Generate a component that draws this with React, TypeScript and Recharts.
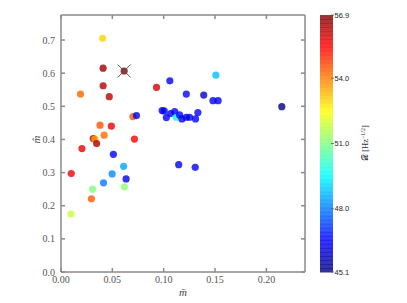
import { ScatterChart, Scatter, XAxis, YAxis } from "recharts";

// m-bar (x), m-hat (y) and D value of each run
const mBar = [
  0.0405, 0.041, 0.041, 0.019, 0.047, 0.093, 0.106, 0.122, 0.139, 0.1508, 0.148, 0.153,
  0.215, 0.07, 0.0735, 0.038, 0.049, 0.042, 0.0715, 0.0314, 0.033, 0.0347, 0.0204, 0.01,
  0.051, 0.061, 0.1146, 0.1307, 0.0498, 0.0634, 0.0414, 0.0307, 0.0618, 0.0296, 0.0097,
  0.0985, 0.1005, 0.1026, 0.1068, 0.1107, 0.1123, 0.1155, 0.1178, 0.122, 0.1252, 0.131, 0.1333,
];
const mHat = [
  0.705, 0.615, 0.562, 0.537, 0.529, 0.557, 0.577, 0.537, 0.534, 0.594, 0.517, 0.517,
  0.499, 0.469, 0.472, 0.443, 0.44, 0.413, 0.401, 0.4025, 0.401, 0.3875, 0.3725, 0.297,
  0.355, 0.319, 0.324, 0.316, 0.296, 0.281, 0.269, 0.25, 0.257, 0.221, 0.175,
  0.487, 0.486, 0.466, 0.478, 0.484, 0.467, 0.474, 0.462, 0.467, 0.467, 0.462, 0.481,
];
const dValue = [
  53.0, 56.5, 56.3, 54.3, 56.2, 55.9, 46.5, 46.5, 46.0, 48.8, 46.5, 46.5,
  45.1, 54.4, 46.3, 54.5, 55.6, 54.2, 55.5, 56.2, 53.6, 56.4, 55.6, 55.6,
  46.4, 48.5, 46.4, 46.5, 48.2, 46.3, 48.0, 51.0, 51.2, 54.4, 51.8,
  46.4, 46.5, 46.5, 46.6, 46.4, 49.4, 46.5, 46.3, 46.5, 46.4, 46.5, 46.6,
];

// highlighted run (drawn with a cross)
const bestX = [0.0615];
const bestY = [0.6065];
const bestD = [56.9];

const xTicks = [0, 0.05, 0.1, 0.15, 0.2];
const yTicks = [0, 0.1, 0.2, 0.3, 0.4, 0.5, 0.6, 0.7];
const cbarTicks = [56.9, 54.0, 51.0, 48.0, 45.1];
const dMin = 45.1;
const dMax = 56.9;
const xDomain = [0, 0.2376];
const yDomain = [0, 0.7755];

const points = mBar.map((x, i) => ({ x, y: mHat[i], d: dValue[i] }));
const best = bestX.map((x, i) => ({ x, y: bestY[i], d: bestD[i] }));

// matplotlib "jet"
function jet(t: number) {
  const c = (v: number) => Math.max(0, Math.min(1, v));
  const r = c(Math.min(4 * t - 1.5, -4 * t + 4.5));
  const g = c(Math.min(4 * t - 0.5, -4 * t + 3.5));
  const b = c(Math.min(4 * t + 0.5, -4 * t + 2.5));
  return `rgb(${Math.round(r * 255)},${Math.round(g * 255)},${Math.round(b * 255)})`;
}
const colorOf = (d: number) => jet((d - dMin) / (dMax - dMin));

const AXIS = "#8a8a8a";
const SERIF = "'Liberation Serif', 'DejaVu Serif', serif";
const SANS = "'Liberation Sans', Arial, sans-serif";

const XTick = (props: any) => {
  const { x, y, payload } = props;
  return (
    <text x={x} y={y} dy="0.75em" textAnchor="middle" fontSize={10} fontFamily={SERIF} fill="#555">
      {Number(payload.value).toFixed(2)}
    </text>
  );
};

const YTick = (props: any) => {
  const { x, y, payload } = props;
  return (
    <text x={x} y={y} dy="0.35em" textAnchor="end" fontSize={10} fontFamily={SERIF} fill="#555">
      {Number(payload.value).toFixed(1)}
    </text>
  );
};

const Dot = (props: any) => {
  const { cx, cy, payload } = props;
  return <circle cx={cx} cy={cy} r={3.6} fill={colorOf(payload.d)} fillOpacity={0.8} />;
};

const CrossDot = (props: any) => {
  const { cx, cy, payload } = props;
  const s = 6.5;
  return (
    <g>
      <circle cx={cx} cy={cy} r={3.6} fill={colorOf(payload.d)} fillOpacity={0.8} />
      <line x1={cx - s} y1={cy - s} x2={cx + s} y2={cy + s} stroke="#555" strokeWidth={1} />
      <line x1={cx - s} y1={cy + s} x2={cx + s} y2={cy - s} stroke="#555" strokeWidth={1} />
    </g>
  );
};

function Colorbar() {
  const left = 320;
  const top = 15;
  const w = 13;
  const h = 257;
  const steps = 64;
  const yOf = (v: number) => top + ((dMax - v) / (dMax - dMin)) * h;
  return (
    <svg width={407} height={303} style={{ position: "absolute", left: 0, top: 0, pointerEvents: "none" }}>
      {Array.from({ length: steps }, (_, i) => (
        <rect
          key={i}
          x={left}
          y={top + (i * h) / steps}
          width={w}
          height={h / steps + 0.5}
          fill={jet(1 - (i + 0.5) / steps)}
          fillOpacity={0.8}
        />
      ))}
      {cbarTicks.map((v) => (
        <g key={v}>
          <line x1={left + w - 2} x2={left + w + 1} y1={yOf(v)} y2={yOf(v)} stroke="#555" strokeWidth={0.8} />
          <text x={left + w + 1.5} y={yOf(v) + 2.6} fontSize={7.5} fontFamily={SANS} fill="#222">
            {v.toFixed(1)}
          </text>
        </g>
      ))}
      <text
        x={368}
        y={143}
        fontSize={8.5}
        fontFamily={SERIF}
        fill="#333"
        textAnchor="middle"
        transform="rotate(-90 368 143)"
      >
        𝒟 [Hz<tspan dy={-3} fontSize={6}>−1/2</tspan><tspan dy={3}>]</tspan>
      </text>
    </svg>
  );
}

export default function App() {
  return (
    <div
      style={{
        position: "absolute",
        left: 0,
        top: 0,
        width: 407,
        height: 303,
        background: "#fff",
        fontFamily: SERIF,
      }}
    >
      <ScatterChart
        width={407}
        height={303}
        margin={{ top: 0, right: 100, bottom: 0, left: 0 }}
        style={{ fontFamily: SERIF }}
      >
        <XAxis
          xAxisId="bottom"
          dataKey="x"
          type="number"
          domain={xDomain}
          ticks={xTicks}
          height={31}
          stroke={AXIS}
          strokeWidth={1.5}
          tickSize={-4}
          tickMargin={7}
          tick={XTick}
          label={{ value: "m\u0304", position: "insideBottom", offset: 7, fill: "#444", fontSize: 11, fontFamily: SERIF, fontStyle: "italic" }}
        />
        <XAxis
          xAxisId="top"
          orientation="top"
          dataKey="x"
          type="number"
          domain={xDomain}
          ticks={xTicks}
          height={15}
          stroke={AXIS}
          strokeWidth={1.5}
          tickSize={-4}
          tick={() => <g />}
        />
        <YAxis
          yAxisId="left"
          dataKey="y"
          type="number"
          domain={yDomain}
          ticks={yTicks}
          width={61}
          stroke={AXIS}
          strokeWidth={1.5}
          tickSize={-4}
          tickMargin={10}
          tick={YTick}
          label={{ value: "m\u0302", angle: -90, position: "insideLeft", offset: 36, fill: "#444", fontSize: 11, fontFamily: SERIF, fontStyle: "italic" }}
        />
        <YAxis
          yAxisId="right"
          orientation="right"
          dataKey="y"
          type="number"
          domain={yDomain}
          ticks={yTicks}
          width={2}
          stroke={AXIS}
          strokeWidth={1.5}
          tickSize={-4}
          tick={() => <g />}
        />
        <Scatter data={points} xAxisId="bottom" yAxisId="left" shape={Dot} isAnimationActive={false} />
        <Scatter data={best} xAxisId="top" yAxisId="right" shape={CrossDot} isAnimationActive={false} />
      </ScatterChart>
      <Colorbar />
    </div>
  );
}
